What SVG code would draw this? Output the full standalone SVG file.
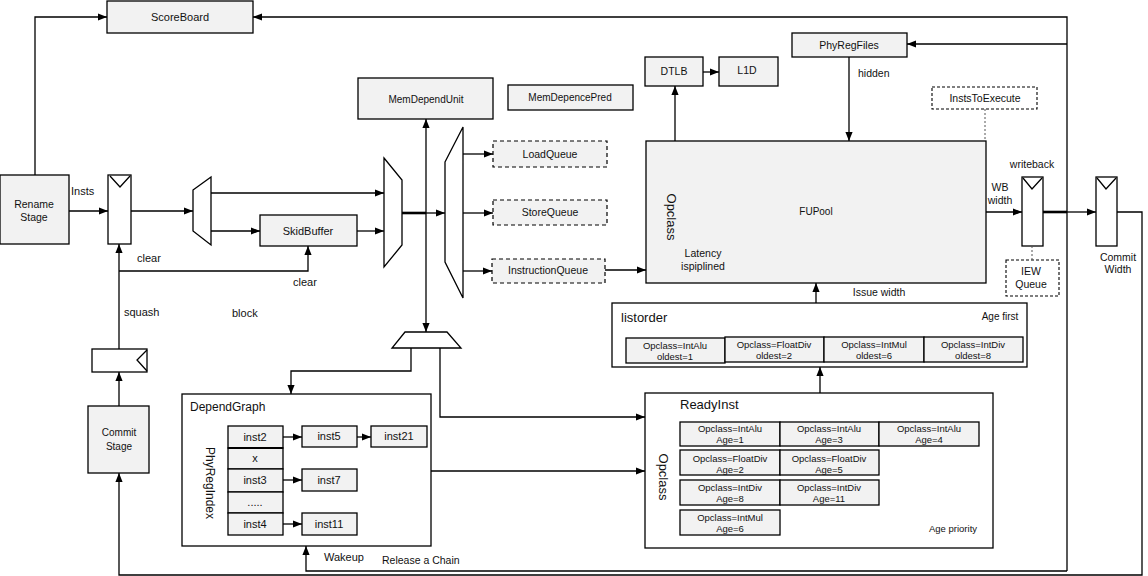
<svg xmlns="http://www.w3.org/2000/svg" width="1148" height="576" viewBox="0 0 1148 576">
<style>
.box{fill:#f2f2f2;stroke:#000;stroke-width:1.3}
.wbox{fill:#fff;stroke:#000;stroke-width:1.3}
.dbox{fill:#f2f2f2;stroke:#000;stroke-width:1.2;stroke-dasharray:4 3}
.dwbox{fill:#fff;stroke:#000;stroke-width:1.1;stroke-dasharray:3 2}
.t{font-family:"Liberation Sans",Arial,sans-serif;font-size:10.5px;fill:#111;text-anchor:middle;dominant-baseline:central}
.l{text-anchor:start}
.s9{font-size:9.5px}
.s10{font-size:10px}
.s11{font-size:11px}
.s12{font-size:12px}
.s13{font-size:13px}
.c{fill:none;stroke:#000;stroke-width:1.3}
.a{marker-end:url(#ah)}
.th{stroke-width:2.6}
.dl{fill:none;stroke:#555;stroke-width:1;stroke-dasharray:2 2}
</style>
<defs>
<marker id="ah" viewBox="0 0 10 10" refX="10" refY="5" markerWidth="9" markerHeight="9" markerUnits="userSpaceOnUse" orient="auto-start-reverse"><path d="M0,1 L10,5 L0,9 z" fill="#000"/></marker>
</defs>
<rect width="1148" height="576" fill="#fff"/>

<g id="labels">
<text class="t l s11" x="71" y="191">Insts</text>
<text class="t l s11" x="137" y="258">clear</text>
<text class="t l s11" x="293" y="282">clear</text>
<text class="t l s11" x="124" y="312">squash</text>
<text class="t l s11" x="232" y="313">block</text>
<text class="t l" x="858" y="73">hidden</text>
<text class="t" x="1032" y="164">writeback</text>
<text class="t" x="1000" y="187">WB</text>
<text class="t" x="1000" y="200">width</text>
<text class="t" x="1118" y="257">Commit</text>
<text class="t" x="1118" y="269">Width</text>
<text class="t" x="879" y="292">Issue width</text>
<text class="t l s11" x="324" y="557">Wakeup</text>
<text class="t l" x="382" y="560">Release a Chain</text>
</g>

<g id="scoreboard"><rect class="box" x="107" y="1" width="146" height="32"/><text class="t s11" x="180" y="17">ScoreBoard</text></g>
<g id="rename"><rect class="box" x="0" y="175" width="69" height="69"/><text class="t" x="34" y="204">Rename</text><text class="t" x="34" y="217">Stage</text></g>
<g id="latch1"><rect class="wbox" x="108" y="175" width="23" height="69"/><path class="c" d="M110,176 L120,187 L130,176"/></g>
<g id="mux1"><polygon class="wbox" points="193,190 211,177 211,245 193,231"/></g>
<g id="skidbuffer"><rect class="box" x="260" y="215" width="97" height="31"/><text class="t s11" x="308" y="231">SkidBuffer</text></g>
<g id="mux2"><polygon class="wbox" points="384,158 402,180 402,245 384,267"/></g>
<g id="memdependunit"><rect class="box" x="358" y="78" width="135" height="41"/><text class="t s10" x="426" y="99">MemDependUnit</text></g>
<g id="memdepencepred"><rect class="box" x="508" y="85" width="125" height="25"/><text class="t s10" x="570" y="97">MemDepencePred</text></g>
<g id="mux3"><polygon class="wbox" points="445,162 463,127 463,298 445,262"/></g>
<g id="loadqueue"><rect class="dbox" x="493" y="141" width="114" height="26"/><text class="t" x="550" y="154">LoadQueue</text></g>
<g id="storequeue"><rect class="dbox" x="493" y="200" width="114" height="25"/><text class="t" x="550" y="212">StoreQueue</text></g>
<g id="instructionqueue"><rect class="dbox" x="492" y="259" width="113" height="24"/><text class="t" x="548" y="270">InstructionQueue</text></g>
<g id="mux4"><polygon class="wbox" points="405,332 447,332 461,348 392,348"/></g>
<g id="dtlb"><rect class="box" x="645" y="57" width="58" height="29"/><text class="t" x="674" y="71">DTLB</text></g>
<g id="l1d"><rect class="box" x="719" y="57" width="59" height="29"/><text class="t" x="747" y="70">L1D</text></g>
<g id="phyregfiles"><rect class="box" x="792" y="33" width="115" height="24"/><text class="t" x="849" y="45">PhyRegFiles</text></g>
<g id="inststoexecute"><rect class="dwbox" x="932" y="87" width="105" height="22"/><text class="t" x="985" y="98">InstsToExecute</text></g>
<g id="fupool"><rect class="box" x="646" y="141" width="340" height="142"/>
<text class="t s10" x="816" y="211">FUPool</text>
<text class="t s13" x="671" y="217" transform="rotate(90 671 217)">Opclass</text>
<text class="t" x="703" y="253">Latency</text><text class="t" x="703" y="266">ispiplined</text></g>
<g id="wblatch"><rect class="wbox" x="1022" y="177" width="21" height="69"/><path class="c" d="M1023,178 L1032,189 L1042,178"/></g>
<g id="iewqueue"><rect class="dwbox" x="1006" y="260" width="53" height="36"/><text class="t" x="1031" y="271">IEW</text><text class="t" x="1031" y="284">Queue</text></g>
<g id="commitlatch"><rect class="wbox" x="1096" y="177" width="21" height="69"/><path class="c" d="M1097,178 L1106,189 L1116,178"/></g>
<g id="squashlatch"><rect class="wbox" x="92" y="349" width="55" height="23"/><path class="c" d="M147,350 L137,360 L147,371"/></g>
<g id="commitstage"><rect class="box" x="88" y="406" width="61" height="67"/><text class="t s10" x="119" y="432">Commit</text><text class="t s10" x="119" y="446">Stage</text></g>

<g id="listorder"><rect class="wbox" x="612" y="303" width="415" height="64"/>
<text class="t l s13" x="621" y="317">listorder</text>
<text class="t s10" x="1000" y="316">Age first</text>
<rect class="box" x="626" y="338" width="99" height="25"/><text class="t s9" x="675" y="345">Opclass=IntAlu</text><text class="t s9" x="675" y="356">oldest=1</text>
<rect class="box" x="725" y="337" width="99" height="25"/><text class="t s9" x="774" y="344">Opclass=FloatDiv</text><text class="t s9" x="774" y="355">oldest=2</text>
<rect class="box" x="824" y="337" width="100" height="25"/><text class="t s9" x="874" y="344">Opclass=IntMul</text><text class="t s9" x="874" y="355">oldest=6</text>
<rect class="box" x="924" y="337" width="99" height="25"/><text class="t s9" x="973" y="344">Opclass=IntDiv</text><text class="t s9" x="973" y="355">oldest=8</text>
</g>

<g id="readyinst"><rect class="wbox" x="645" y="393" width="348" height="155"/>
<text class="t l s13" x="680" y="404">ReadyInst</text>
<text class="t s13" x="663" y="477" transform="rotate(90 663 477)">Opclass</text>
<text class="t s9" x="953" y="528">Age priority</text>
<rect class="box" x="680" y="422" width="100" height="24"/><text class="t s9" x="730" y="428">Opclass=IntAlu</text><text class="t s9" x="730" y="439">Age=1</text>
<rect class="box" x="780" y="422" width="99" height="24"/><text class="t s9" x="829" y="428">Opclass=IntAlu</text><text class="t s9" x="829" y="439">Age=3</text>
<rect class="box" x="879" y="422" width="100" height="24"/><text class="t s9" x="929" y="428">Opclass=IntAlu</text><text class="t s9" x="929" y="439">Age=4</text>
<rect class="box" x="680" y="450" width="100" height="25"/><text class="t s9" x="730" y="458">Opclass=FloatDiv</text><text class="t s9" x="730" y="469">Age=2</text>
<rect class="box" x="780" y="450" width="99" height="25"/><text class="t s9" x="829" y="458">Opclass=FloatDiv</text><text class="t s9" x="829" y="469">Age=5</text>
<rect class="box" x="680" y="480" width="100" height="25"/><text class="t s9" x="730" y="487">Opclass=IntDiv</text><text class="t s9" x="730" y="498">Age=8</text>
<rect class="box" x="780" y="480" width="99" height="25"/><text class="t s9" x="829" y="487">Opclass=IntDiv</text><text class="t s9" x="829" y="498">Age=11</text>
<rect class="box" x="680" y="510" width="100" height="25"/><text class="t s9" x="730" y="517">Opclass=IntMul</text><text class="t s9" x="730" y="528">Age=6</text>
</g>

<g id="dependgraph"><rect class="wbox" x="182" y="394" width="249" height="152"/>
<text class="t l s12" x="190" y="407">DependGraph</text>
<text class="t s12" x="210" y="483" transform="rotate(90 210 483)">PhyRegIndex</text>
<rect class="box" x="228" y="426" width="55" height="22"/><text class="t s11" x="255" y="437">inst2</text>
<rect class="box" x="228" y="448" width="55" height="21"/><text class="t s11" x="255" y="458">x</text>
<rect class="box" x="228" y="469" width="55" height="23"/><text class="t s11" x="255" y="480">inst3</text>
<rect class="box" x="228" y="492" width="55" height="21"/><text class="t s11" x="255" y="502">.....</text>
<rect class="box" x="228" y="513" width="55" height="22"/><text class="t s11" x="255" y="524">inst4</text>
<path class="c" d="M228,448 H283" style="stroke-width:2.2"/>
<rect class="box" x="302" y="426" width="55" height="21"/><text class="t s11" x="329" y="436">inst5</text>
<rect class="box" x="371" y="426" width="56" height="21"/><text class="t s11" x="399" y="436">inst21</text>
<rect class="box" x="302" y="469" width="55" height="22"/><text class="t s11" x="329" y="480">inst7</text>
<rect class="box" x="302" y="513" width="55" height="22"/><text class="t s11" x="329" y="524">inst11</text>
</g>

<g id="connectors">
<path class="c a" d="M35,175 V17 H107"/>
<path class="c a" d="M69,211 H108"/>
<path class="c a" d="M131,211 H193"/>
<path class="c a" d="M211,193 H384"/>
<path class="c a" d="M211,231 H260"/>
<path class="c a" d="M357,231 H384"/>
<path class="c th" d="M402,213 H426"/>
<path class="c a" d="M426,213 H445"/>
<path class="c a" d="M426,119 V332" style="marker-start:url(#ah)"/>
<path class="c a" d="M463,154 H493"/>
<path class="c a" d="M463,213 H493"/>
<path class="c a" d="M463,271 H492"/>
<path class="c a" d="M605,270 H646"/>
<path class="c a" d="M675,141 V86"/>
<path class="c a" d="M703,72 H719"/>
<path class="c a" d="M849,57 V141"/>
<path class="dl" d="M985,109 V141"/>
<path class="c a" d="M986,212 H1022"/>
<path class="c th" d="M1043,212 H1067"/>
<path class="c a" d="M1067,212 H1096"/>
<path class="c a" d="M1067,571 V17 H253"/>
<path class="c a" d="M1067,44 H907"/>
<path class="c a" d="M1067,571 H306 V546"/>
<path class="c a" d="M1117,212 H1142 V575 H119 V473"/>
<path class="c a" d="M119,406 V372"/>
<path class="c a" d="M119,349 V244"/>
<path class="c a" d="M119,271 H308 V246"/>
<path class="c a" d="M411,348 V371 H291 V394"/>
<path class="c a" d="M440,348 V417 H645"/>
<path class="c a" d="M431,471 H645"/>
<path class="c a" d="M283,437 H302"/>
<path class="c a" d="M357,437 H371"/>
<path class="c a" d="M283,480 H302"/>
<path class="c a" d="M283,524 H302"/>
<path class="c a" d="M820,393 V367"/>
<path class="c a" d="M816,303 V283"/>
<path class="dl" d="M1032,246 V260"/>
</g>
</svg>
